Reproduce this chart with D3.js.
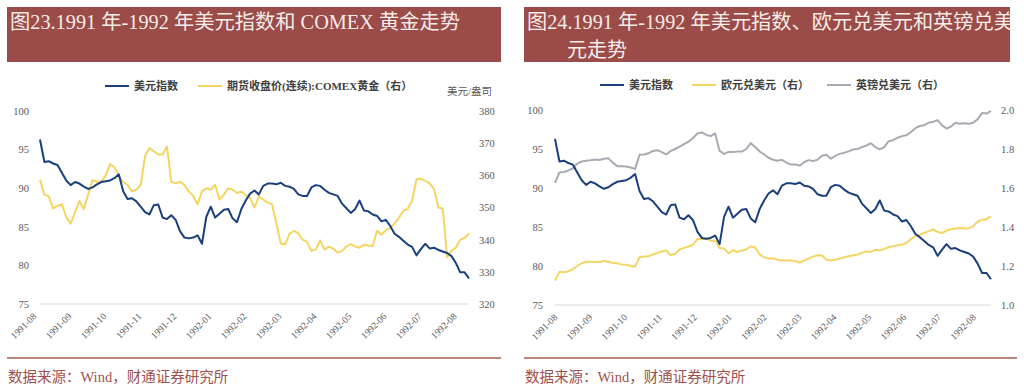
<!DOCTYPE html>
<html><head><meta charset="utf-8">
<script src="https://cdn.jsdelivr.net/npm/d3@7"></script>
<style>
html,body{margin:0;padding:0;background:#fff;}
svg{display:block;}
</style></head>
<body><svg id="c" width="1024" height="390"></svg>
<script>
// ---------- data ----------
const monthLabels = ["1991-08","1991-09","1991-10","1991-11","1991-12","1992-01","1992-02","1992-03","1992-04","1992-05","1992-06","1992-07","1992-08"];

const dollarIndex = [96.3,93.4,93.5,93.2,93.0,92.0,91.0,90.4,90.8,90.6,90.2,89.9,90.1,90.5,90.8,90.9,91.0,91.3,91.8,89.6,
 88.6,88.7,88.3,87.6,86.9,86.6,87.8,87.9,86.2,86.0,86.5,85.9,84.4,83.6,83.5,83.6,83.9,82.8,86.3,87.6,
 86.2,86.7,87.2,87.3,86.1,85.6,87.3,88.4,89.3,89.7,89.2,90.3,90.6,90.6,90.5,90.7,90.3,90.2,89.9,89.2,
 89.0,89.0,90.1,90.4,90.3,89.8,89.4,89.2,89.0,88.0,87.4,86.8,87.3,88.4,87.1,87.0,86.6,86.4,85.7,85.9,
 85.1,84.1,83.7,83.2,82.7,82.4,81.3,82.1,82.8,82.2,82.3,82.0,81.8,81.6,81.2,80.3,79.1,79.1,78.3];

const comexGold = [358.6,354.0,353.5,349.7,350.5,351.0,347.0,345.0,348.5,352.0,349.5,354.0,358.5,358.0,358.0,360.0,363.5,362.5,359.8,358.0,
 357.0,355.0,355.5,357.0,366.0,368.5,367.5,366.5,366.5,369.0,358.0,357.5,358.0,357.0,355.0,353.6,351.0,355.0,356.0,355.5,
 357.0,352.5,354.0,356.0,355.5,354.5,355.0,353.8,353.0,350.0,353.5,352.5,351.5,351.0,345.0,338.8,338.5,341.8,342.7,342.0,
 340.0,339.3,336.5,337.0,339.8,336.9,337.8,337.2,336.0,336.5,337.9,338.6,337.9,337.5,338.4,338.2,338.0,342.8,341.5,343.0,
 343.6,345.0,346.8,349.0,349.6,352.0,358.8,358.9,358.3,357.5,355.8,350.0,349.7,334.5,336.5,337.5,340.0,340.5,342.0];

const eurUsd = [1.125,1.170,1.168,1.172,1.184,1.200,1.214,1.222,1.222,1.220,1.220,1.226,1.222,1.216,1.214,1.208,1.207,1.200,1.197,1.245,
 1.249,1.250,1.260,1.266,1.275,1.280,1.256,1.262,1.285,1.293,1.300,1.309,1.338,1.338,1.340,1.330,1.330,1.292,1.290,1.265,
 1.282,1.272,1.280,1.285,1.300,1.295,1.260,1.245,1.238,1.240,1.232,1.228,1.228,1.228,1.225,1.218,1.228,1.238,1.248,1.255,
 1.254,1.232,1.228,1.232,1.238,1.245,1.250,1.255,1.258,1.268,1.275,1.272,1.283,1.280,1.287,1.296,1.302,1.307,1.310,1.318,
 1.338,1.352,1.360,1.369,1.378,1.388,1.375,1.369,1.382,1.388,1.392,1.395,1.392,1.394,1.403,1.428,1.437,1.440,1.455];

const gbpUsd = [1.626,1.680,1.682,1.690,1.700,1.725,1.736,1.740,1.742,1.746,1.744,1.750,1.752,1.730,1.712,1.712,1.710,1.705,1.698,1.770,
 1.772,1.778,1.790,1.794,1.784,1.772,1.790,1.800,1.812,1.825,1.838,1.855,1.880,1.885,1.872,1.866,1.880,1.790,1.775,1.785,
 1.784,1.787,1.787,1.800,1.830,1.810,1.787,1.772,1.755,1.745,1.740,1.745,1.730,1.720,1.720,1.715,1.732,1.743,1.738,1.745,
 1.765,1.770,1.750,1.765,1.775,1.781,1.788,1.798,1.800,1.810,1.818,1.830,1.810,1.798,1.810,1.840,1.845,1.858,1.866,1.870,
 1.887,1.907,1.918,1.922,1.935,1.940,1.948,1.921,1.905,1.915,1.935,1.930,1.932,1.930,1.935,1.952,1.985,1.982,1.995];

const leftTicks1 = [75,80,85,90,95,100];
const rightTicks1 = [320,330,340,350,360,370,380];
const leftTicks2 = [75,80,85,90,95,100];
const rightTicks2 = [1.0,1.2,1.4,1.6,1.8,2.0];

const title1 = "图23.1991 年-1992 年美元指数和 COMEX 黄金走势";
const title2a = "图24.1991 年-1992 年美元指数、欧元兑美元和英镑兑美";
const title2b = "元走势";
const sourceText = "数据来源：Wind，财通证券研究所";

// ---------- style ----------
const BLUE = "#1a3f7d", YELLOW = "#f5d562", GRAY = "#a9abb3";
const RED = "#9b4b48", AXISTXT = "#595959";
const SERIF = "'Liberation Serif','Noto Sans CJK SC',serif";

const svg = d3.select("#c");

function panel(cfg){
  const g = svg.append("g");
  // title bar
  g.append("rect").attr("x",cfg.bx).attr("y",7).attr("width",cfg.bw).attr("height",55).attr("fill",RED);
  cfg.titles.forEach(t=>{
    const tt = g.append("text").attr("x",t.x).attr("y",t.y).attr("fill","#f6ece9")
      .attr("font-family",SERIF).attr("font-size",20).text(t.text);
    if(t.len) tt.attr("textLength",t.len).attr("lengthAdjust","spacingAndGlyphs");
  });
  // bottom rule + source
  g.append("line").attr("x1",cfg.bx).attr("x2",cfg.bx+cfg.rw).attr("y1",358).attr("y2",358)
    .attr("stroke","#a65a55").attr("stroke-width",1.5);
  g.append("text").attr("x",cfg.bx+1).attr("y",382).attr("fill","#a0504b")
    .attr("font-family",SERIF).attr("font-size",14.5).text(sourceText);

  const n = cfg.series[0].values.length;
  const x = d3.scaleLinear().domain([0,n-1]).range([cfg.x0,cfg.x1]);
  const yL = d3.scaleLinear().domain(cfg.leftDomain).range([cfg.y0,cfg.y1]);
  const yR = d3.scaleLinear().domain(cfg.rightDomain).range([cfg.y0,cfg.y1]);

  // baseline
  g.append("line").attr("x1",cfg.x0).attr("x2",cfg.x1).attr("y1",cfg.y0).attr("y2",cfg.y0)
    .attr("stroke","#d9d9d9").attr("stroke-width",1);

  // left axis
  const la = g.append("g").attr("transform",`translate(${cfg.lx},0)`)
    .call(d3.axisLeft(yL).tickValues(cfg.leftTicks).tickSize(0).tickPadding(0).tickFormat(d3.format("d")));
  la.select(".domain").remove();
  la.selectAll("text").attr("font-family",SERIF).attr("font-size",10.5).attr("fill",AXISTXT);
  // right axis
  const ra = g.append("g").attr("transform",`translate(${cfg.rx},0)`)
    .call(d3.axisRight(yR).tickValues(cfg.rightTicks).tickSize(0).tickPadding(0).tickFormat(d3.format(cfg.rightFmt)));
  ra.select(".domain").remove();
  ra.selectAll("text").attr("font-family",SERIF).attr("font-size",10.5).attr("fill",AXISTXT);

  // x labels
  monthLabels.forEach((m,k)=>{
    const px = x(k*cfg.tickStep);
    g.append("text").attr("transform",`translate(${px+cfg.labelDx},${cfg.y0+13}) rotate(-45)`)
      .attr("text-anchor","end").attr("font-family",SERIF).attr("font-size",9.5).attr("fill",AXISTXT).text(m);
  });

  // lines (draw in given order)
  cfg.series.forEach(s=>{
    const y = s.axis==="L"?yL:yR;
    g.append("path").datum(s.values).attr("fill","none").attr("stroke",s.color).attr("stroke-width",2)
      .attr("stroke-linejoin","round")
      .attr("d",d3.line().x((d,i)=>x(i)).y(d=>y(d)));
  });

  // legend
  cfg.legend.forEach(l=>{
    g.append("line").attr("x1",l.x).attr("x2",l.x+24).attr("y1",cfg.ly).attr("y2",cfg.ly)
      .attr("stroke",l.color).attr("stroke-width",2);
    g.append("text").attr("x",l.x+29).attr("y",cfg.ly+4).attr("font-family",SERIF).attr("font-size",11)
      .attr("font-weight","bold").attr("fill","#404040").text(l.text);
  });
  if(cfg.unit){
    g.append("text").attr("x",cfg.unit.x).attr("y",cfg.unit.y).attr("font-family",SERIF).attr("font-size",10.5)
      .attr("fill",AXISTXT).text(cfg.unit.text);
  }
}

panel({
  bx:7,bw:494,rw:494,
  titles:[{x:10,y:29,text:title1,len:450}],
  x0:40,x1:469,y0:304,y1:111,lx:29,rx:479,
  leftDomain:[75,100],rightDomain:[320,380],leftTicks:leftTicks1,rightTicks:rightTicks1,rightFmt:"d",
  tickStep:8,labelDx:-3,
  series:[{values:comexGold,axis:"R",color:YELLOW},{values:dollarIndex,axis:"L",color:BLUE}],
  ly:86,
  legend:[{x:105,color:BLUE,text:"美元指数"},{x:198,color:YELLOW,text:"期货收盘价(连续):COMEX黄金（右）"}],
  unit:{x:447,y:95,text:"美元/盎司"}
});

panel({
  bx:524,bw:486,rw:493,
  titles:[{x:527,y:29,text:title2a,len:487},{x:567,y:57,text:title2b}],
  x0:555,x1:991,y0:305,y1:110,lx:543,rx:1001,
  leftDomain:[75,100],rightDomain:[1.0,2.0],leftTicks:leftTicks2,rightTicks:rightTicks2,rightFmt:".1f",
  tickStep:7.84,labelDx:3,
  series:[{values:gbpUsd,axis:"R",color:GRAY},{values:eurUsd,axis:"R",color:YELLOW},{values:dollarIndex,axis:"L",color:BLUE}],
  ly:85,
  legend:[{x:600,color:BLUE,text:"美元指数"},{x:692,color:YELLOW,text:"欧元兑美元（右）"},{x:827,color:GRAY,text:"英镑兑美元（右）"}]
});
</script></body></html>
